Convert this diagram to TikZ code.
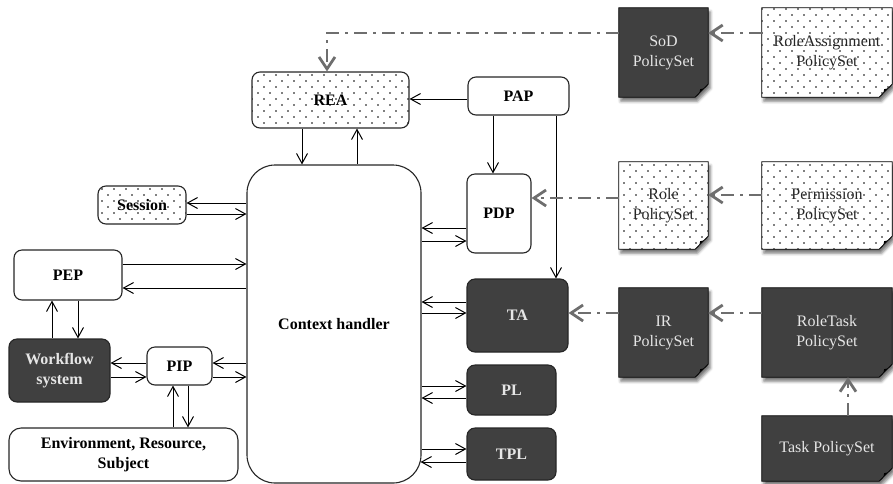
\documentclass[tikz,border=0pt]{standalone}
\usepackage{fontspec}
\setmainfont{Liberation Serif}
\usetikzlibrary{arrows.meta,patterns,shadows.blur,calc,backgrounds}
\definecolor{dk}{HTML}{404040}
\definecolor{lt}{HTML}{E6E6E6}
\definecolor{gl}{HTML}{6E6E6E}
\pgfdeclarepatternformonly{rdots}{\pgfqpoint{-1pt}{-1pt}}{\pgfqpoint{8pt}{8pt}}{\pgfqpoint{12pt}{12pt}}{%
  \pgfpathcircle{\pgfqpoint{0pt}{0pt}}{0.8pt}%
  \pgfpathcircle{\pgfqpoint{6pt}{6pt}}{0.8pt}%
  \pgfusepath{fill}}
\begin{document}
\begin{tikzpicture}[x=1pt,y=-1pt,
  box/.style={draw=black!85,line width=1.1pt,rounded corners=8pt,
    font=\fontsize{16}{20}\selectfont\bfseries,align=center,inner sep=0pt},
  plainbox/.style={box,fill=white},
  dotbox/.style={box,preaction={fill=white},pattern=rdots},
  darkbox/.style={box,fill=dk,text=lt},
  pol/.style={inner sep=0pt,font=\fontsize{16}{20}\selectfont,align=center},
  pdark/.style={fill=dk,draw=black,line width=0.8pt},
  pdot/.style={pattern=rdots,draw=black,line width=0.8pt},
  barrow/.style={-{Straight Barb[length=10pt,width=11pt]},line width=1pt},
  brev/.style={{Straight Barb[length=10pt,width=11pt]}-,line width=1pt},
  garrow/.style={-{Straight Barb[length=12pt,width=16pt]},draw=gl,line width=2.8pt,
    dash pattern=on 13pt off 6pt on 3pt off 6pt}
]
\useasboundingbox (0,0) rectangle (893,483);

% process nodes
\node[dotbox,minimum width=157pt,minimum height=56pt] (rea) at (330.5,100) {REA};
\node[plainbox,minimum width=101pt,minimum height=38pt] (pap) at (518.5,96) {PAP};
\node[plainbox,rounded corners=28pt,minimum width=174pt,minimum height=318pt] (ch) at (334,324) {Context handler};
\node[plainbox,minimum width=64pt,minimum height=79pt] (pdp) at (499,213.5) {PDP};
\node[dotbox,minimum width=88pt,minimum height=38pt] (ses) at (142,205) {Session};
\node[plainbox,minimum width=108pt,minimum height=50pt] (pep) at (68,275) {PEP};
\node[darkbox,minimum width=101pt,minimum height=73pt] (ta) at (517.5,315.5) {TA};
\node[darkbox,minimum width=89pt,minimum height=50pt] (pl) at (511.5,390) {PL};
\node[darkbox,minimum width=89pt,minimum height=52pt] (tpl) at (511.5,454) {TPL};
\node[darkbox,minimum width=101pt,minimum height=63pt] (wf) at (59.5,370.5) {Workflow\\system};
\node[plainbox,minimum width=65pt,minimum height=38pt] (pip) at (179.5,366) {PIP};
\node[plainbox,rounded corners=12pt,minimum width=229pt,minimum height=53pt] (env) at (123.5,454.5) {Environment, Resource,\\Subject};

% policy sets
\node[pol,text=lt,minimum width=89pt,minimum height=89pt] (sod) at (663.5,52.5) {SoD\\PolicySet};
\node[pol,text=black!85,minimum width=130pt,minimum height=89pt] (ra) at (827,52.5) {RoleAssignment\\PolicySet};
\node[pol,text=black!85,minimum width=89pt,minimum height=87pt] (role) at (663.5,205.5) {Role\\PolicySet};
\node[pol,text=black!85,minimum width=130pt,minimum height=87pt] (perm) at (827,205.5) {Permission\\PolicySet};
\node[pol,text=lt,minimum width=89pt,minimum height=89pt] (ir) at (663.5,332.5) {IR\\PolicySet};
\node[pol,text=lt,minimum width=130pt,minimum height=89pt] (rt) at (827,332.5) {RoleTask\\PolicySet};
\node[pol,text=lt,minimum width=130pt,minimum height=65pt] (task) at (827,448.5) {Task PolicySet};

\begin{scope}[on background layer]
\foreach \n/\s in {sod/pdark,ra/pdot,role/pdot,perm/pdot,ir/pdark,rt/pdark,task/pdark}{
  \path[fill=white,blur shadow={shadow xshift=2pt,shadow yshift=-4pt,shadow blur radius=3pt,shadow opacity=55}]
    (\n.north west) -- (\n.north east) -- ($(\n.south east)+(0,-13)$) -- ($(\n.south east)+(-13,0)$) -- (\n.south west) -- cycle;
  \path[\s] (\n.north west) -- (\n.north east) -- ($(\n.south east)+(0,-13)$) -- ($(\n.south east)+(-13,0)$) -- (\n.south west) -- cycle;
  \fill[black] ($(\n.south east)+(0,-13)$) .. controls ($(\n.south east)+(-3,-9)$) .. ($(\n.south east)+(-8,-8)$)
    .. controls ($(\n.south east)+(-9,-3)$) .. ($(\n.south east)+(-13,0)$) -- cycle;
}
\end{scope}

% black connectors
\draw[barrow] ($(pap.west)+(0,3)$) coordinate (p) -- (p -| rea.east);
\draw[barrow] ($(rea.south)+(-28.5,0)$) coordinate (p) -- (p |- ch.north);
\draw[brev] ($(rea.south)+(26.5,0)$) coordinate (p) -- (p |- ch.north);
\draw[barrow] ($(pap.south)+(-25.5,0)$) coordinate (p) -- (p |- pdp.north);
\draw[barrow] ($(pap.south)+(37.5,0)$) coordinate (p) -- (p |- ta.north);
\draw[barrow] ($(pdp.west)+(0,14.5)$) coordinate (p) -- (p -| ch.east);
\draw[brev] ($(pdp.west)+(0,27.5)$) coordinate (p) -- (p -| ch.east);
\draw[barrow] ($(ses.east)+(0,9)$) coordinate (p) -- (p -| ch.west);
\draw[brev] ($(ses.east)+(0,-2)$) coordinate (p) -- (p -| ch.west);
\draw[barrow] ($(pep.east)+(0,-11)$) coordinate (p) -- (p -| ch.west);
\draw[brev] ($(pep.east)+(0,13)$) coordinate (p) -- (p -| ch.west);
\draw[brev] ($(pep.south)+(-16,0)$) coordinate (p) -- (p |- wf.north);
\draw[barrow] ($(pep.south)+(10,0)$) coordinate (p) -- (p |- wf.north);
\draw[brev] ($(wf.east)+(0,-7.5)$) coordinate (p) -- (p -| pip.west);
\draw[barrow] ($(wf.east)+(0,6.5)$) coordinate (p) -- (p -| pip.west);
\draw[brev] ($(pip.east)+(0,-3)$) coordinate (p) -- (p -| ch.west);
\draw[barrow] ($(pip.east)+(0,11)$) coordinate (p) -- (p -| ch.west);
\draw[brev] ($(pip.south)+(-6.5,0)$) coordinate (p) -- (p |- env.north);
\draw[barrow] ($(pip.south)+(8.5,0)$) coordinate (p) -- (p |- env.north);
\draw[barrow] ($(ta.west)+(0,-13.5)$) coordinate (p) -- (p -| ch.east);
\draw[brev] ($(ta.west)+(0,-2.5)$) coordinate (p) -- (p -| ch.east);
\draw[brev] ($(pl.west)+(0,-4)$) coordinate (p) -- (p -| ch.east);
\draw[barrow] ($(pl.west)+(0,8)$) coordinate (p) -- (p -| ch.east);
\draw[brev] ($(tpl.west)+(0,-5)$) coordinate (p) -- (p -| ch.east);
\draw[barrow] ($(tpl.west)+(0,8)$) coordinate (p) -- ($(p -| ch.east)+(-1,0)$);

% grey dash-dot connectors
\draw[garrow] ($(ra.west)+(0,-19.5)$) coordinate (p) -- (p -| sod.east);
\draw[garrow] ($(sod.west)+(0,-19.5)$) coordinate (p) -- ($(p -| rea.north)+(-3.5,0)$) coordinate (q) -- (q |- rea.north);
\draw[garrow] ($(perm.west)+(0,-10.5)$) coordinate (p) -- (p -| role.east);
\draw[garrow] ($(role.west)+(0,-7.5)$) coordinate (p) -- (p -| pdp.east);
\draw[garrow] ($(rt.west)+(0,-19.5)$) coordinate (p) -- (p -| ir.east);
\draw[garrow] ($(ir.west)+(0,-19.5)$) coordinate (p) -- (p -| ta.east);
\draw[garrow] ($(task.north)+(21,0)$) coordinate (p) -- (p |- rt.south);
\end{tikzpicture}
\end{document}
